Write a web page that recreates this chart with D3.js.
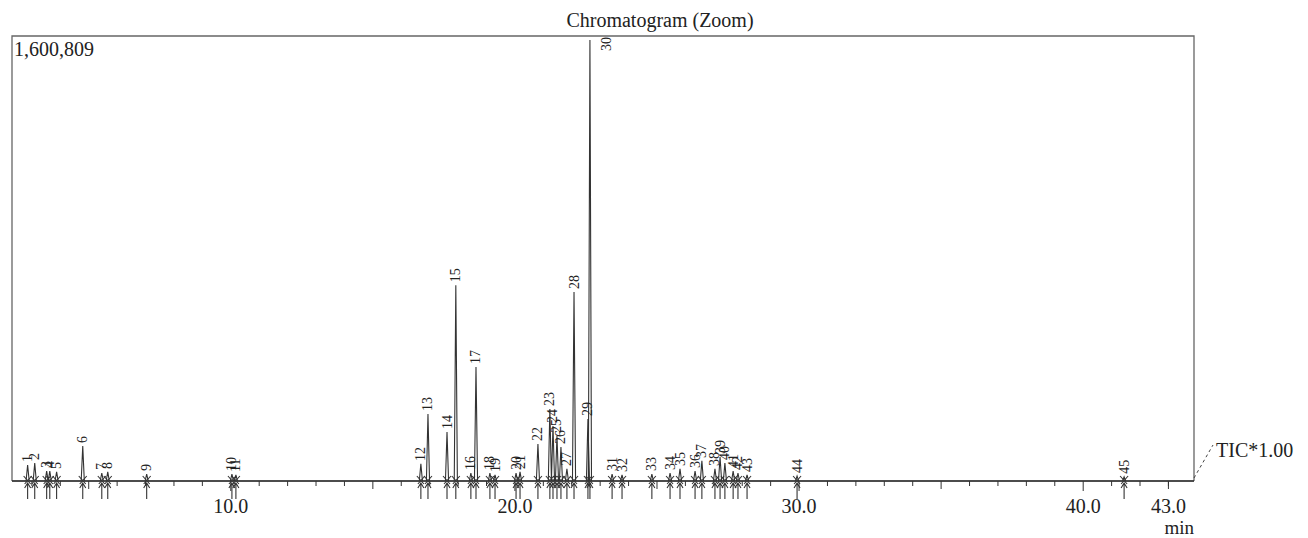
<!DOCTYPE html>
<html>
<head>
<meta charset="utf-8">
<script src="https://cdn.jsdelivr.net/npm/d3@7"></script>
<style>
  body { margin: 0; background: #fff; }
  svg { display: block; }
  text { font-family: "Liberation Serif", "DejaVu Serif", serif; fill: #222; }
</style>
</head>
<body>
<div id="chart"></div>
<script>
// Peak table
const peakNums = d3.range(1, 46);
const peakTimes = [2.85, 3.10, 3.52, 3.63, 3.87, 4.79, 5.46, 5.67, 7.04, 10.04,
  10.18, 16.69, 16.94, 17.61, 17.92, 18.45, 18.63, 19.12, 19.30, 20.04,
  20.18, 20.81, 21.23, 21.34, 21.48, 21.62, 21.83, 22.08, 22.57, 22.64,
  23.42, 23.77, 24.82, 25.46, 25.81, 26.34, 26.58, 27.04, 27.22, 27.39,
  27.68, 27.85, 28.17, 29.93, 41.44];
const peakHeights = [58000, 65000, 36000, 36000, 33000, 127000, 29000, 33000, 25000, 25000,
  22000, 62000, 243000, 178000, 711000, 29000, 414000, 29000, 22000, 29000,
  33000, 134000, 261000, 200000, 163000, 123000, 44000, 686000, 225000, 1600809,
  25000, 22000, 25000, 29000, 44000, 36000, 73000, 44000, 87000, 65000,
  36000, 29000, 22000, 18000, 15000];

const majorTicks = [10, 20, 30, 40, 43];
const majorLabels = ["10.0", "20.0", "30.0", "40.0", "43.0"];
const maxLabel = "1,600,809";
const title = "Chromatogram (Zoom)";

const peaks = peakNums.map((n, i) => ({ n, t: peakTimes[i], h: peakHeights[i] }));

const W = 1308, H = 538;
const plotL = 12, plotR = 1194, plotT = 36, base = 481;

const x = d3.scaleLinear().domain([2.3, 43.9]).range([plotL, plotR]);
const y = d3.scaleLinear().domain([0, 1600809]).range([base, 40]);

const svg = d3.select("#chart").append("svg")
  .attr("width", W).attr("height", H);

// Title
svg.append("text")
  .attr("x", 660).attr("y", 27)
  .attr("text-anchor", "middle")
  .attr("font-size", 20)
  .text(title);

// Frame
svg.append("path")
  .attr("d", `M${plotL},${base}V${plotT}H${plotR}V${base}`)
  .attr("fill", "none")
  .attr("stroke", "#666")
  .attr("stroke-width", 1.3);

svg.append("text")
  .attr("x", plotL + 2).attr("y", 56)
  .attr("font-size", 20)
  .text(maxLabel);

// Axis ticks (below baseline)
const minor = d3.range(3, 44);
svg.append("g").selectAll("line").data(minor).join("line")
  .attr("x1", d => x(d)).attr("x2", d => x(d))
  .attr("y1", base)
  .attr("y2", d => base + (d % 10 === 0 ? 10 : d % 5 === 0 ? 8 : 5))
  .attr("stroke", "#333").attr("stroke-width", 1);

svg.append("line")
  .attr("x1", x(43)).attr("x2", x(43))
  .attr("y1", base).attr("y2", base + 8)
  .attr("stroke", "#333");

svg.append("g").selectAll("text").data(majorTicks).join("text")
  .attr("x", d => x(d)).attr("y", 513)
  .attr("text-anchor", "middle")
  .attr("font-size", 20)
  .text((d, i) => majorLabels[i]);

svg.append("text")
  .attr("x", plotR).attr("y", 534)
  .attr("text-anchor", "end")
  .attr("font-size", 19)
  .text("min");

// Trace: baseline with each peak as a narrow spike
const hw = 0.055;
const sorted = peaks.slice().sort((a, b) => a.t - b.t);
const pts = [[x.domain()[0], 0]];
sorted.forEach(p => { pts.push([p.t - hw, 0], [p.t, p.h], [p.t + hw, 0]); });
pts.push([x.domain()[1], 0]);
const line = d3.line().x(d => x(d[0])).y(d => y(d[1]));
svg.append("path")
  .attr("d", line(pts))
  .attr("fill", "none")
  .attr("stroke", "#333")
  .attr("stroke-width", 1.1);

// Baseline
svg.append("line")
  .attr("x1", plotL).attr("x2", plotR)
  .attr("y1", base).attr("y2", base)
  .attr("stroke", "#333").attr("stroke-width", 1.4);

// Integration marks: arrows below, slashes at baseline
const marks = svg.append("g").attr("stroke", "#333").attr("stroke-width", 1.1).attr("fill", "none");
peaks.forEach(p => {
  const px = x(p.t);
  marks.append("path").attr("d", `M${px},${base + 18}V${base + 2}M${px - 3},${base + 7}L${px},${base + 2}L${px + 3},${base + 7}`);
  marks.append("path").attr("d", `M${px - 4},${base - 5}L${px + 3},${base + 3}M${px + 4},${base - 5}L${px - 3},${base + 3}`);
});

// Peak labels
const fs = 14;
const offTop = d => y(d.h) - 4 - 15 < plotT;
svg.append("g").selectAll("text").data(peaks).join("text")
  .attr("font-size", fs)
  .attr("dominant-baseline", "central")
  .attr("text-anchor", d => offTop(d) ? "end" : "start")
  .attr("transform", d => offTop(d)
    ? `translate(${x(d.t) + 17},${plotT + 1}) rotate(-90)`
    : `translate(${x(d.t)},${y(d.h) - 3}) rotate(-90)`)
  .text(d => d.n);

// TIC annotation
svg.append("line")
  .attr("x1", plotR).attr("y1", base - 3)
  .attr("x2", 1213).attr("y2", 445)
  .attr("stroke", "#444").attr("stroke-dasharray", "3,3");
svg.append("text")
  .attr("x", 1216).attr("y", 457)
  .attr("font-size", 20)
  .text("TIC*1.00");
</script>
</body>
</html>
